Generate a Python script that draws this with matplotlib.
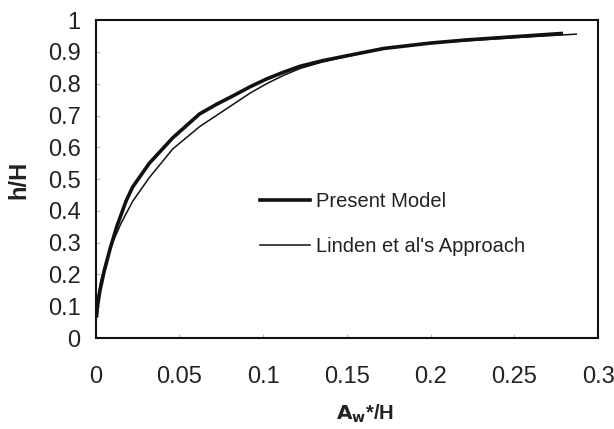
import matplotlib.pyplot as plt
import numpy as np

plt.rcParams['font.family'] = ['Liberation Sans', 'DejaVu Sans']

# Present Model (thick line)
present_x = [0.0005, 0.001, 0.0025, 0.005, 0.0085, 0.0125, 0.018, 0.022, 0.032,
             0.046, 0.062, 0.072, 0.082, 0.092, 0.102, 0.112, 0.122, 0.135,
             0.15, 0.172, 0.2, 0.222, 0.25, 0.278]
present_y = [0.07, 0.10, 0.15, 0.21, 0.28, 0.35, 0.43, 0.475, 0.55,
             0.63, 0.705, 0.735, 0.762, 0.79, 0.815, 0.836, 0.855, 0.872,
             0.888, 0.911, 0.928, 0.938, 0.948, 0.958]

# Linden et al's Approach (thin line)
linden_x = [0.001, 0.003, 0.006, 0.01, 0.015, 0.022, 0.032, 0.046, 0.062,
            0.072, 0.082, 0.092, 0.102, 0.112, 0.122, 0.135, 0.15, 0.172,
            0.2, 0.25, 0.287]
linden_y = [0.12, 0.18, 0.24, 0.30, 0.36, 0.43, 0.505, 0.595, 0.665,
            0.70, 0.735, 0.77, 0.80, 0.826, 0.848, 0.868, 0.886, 0.91,
            0.928, 0.945, 0.956]

xticks = [0, 0.05, 0.1, 0.15, 0.2, 0.25, 0.3]
xtick_labels = ['0', '0.05', '0.1', '0.15', '0.2', '0.25', '0.3']
yticks = [0, 0.1, 0.2, 0.3, 0.4, 0.5, 0.6, 0.7, 0.8, 0.9, 1]
ytick_labels = ['0', '0.1', '0.2', '0.3', '0.4', '0.5', '0.6', '0.7', '0.8', '0.9', '1']

fig = plt.figure(figsize=(6.14, 4.29), dpi=100)
ax = fig.add_axes([0.156, 0.212, 0.818, 0.741])

ax.plot(present_x, present_y, color='#111111', lw=2.6, label='Present Model')
ax.plot(linden_x, linden_y, color='#111111', lw=1.1, label="Linden et al's Approach")

ax.set_xlim(0, 0.3)
ax.set_ylim(0, 1)
ax.set_xticks(xticks)
ax.set_xticklabels(xtick_labels)
ax.set_yticks(yticks)
ax.set_yticklabels(ytick_labels)

for s in ax.spines.values():
    s.set_linewidth(1.5)
    s.set_color('#111111')

ax.tick_params(axis='x', direction='in', length=3, color='#bbbbbb',
               labelsize=17, pad=20, labelcolor='#222222')
ax.tick_params(axis='y', direction='in', length=3, color='#bbbbbb',
               labelsize=17, pad=11, labelcolor='#222222')

fig.text(365 / 614, 1 - 414 / 429, r'$\mathbf{A_w}$*/H', fontsize=14.5,
         fontweight='bold', color='#222222', ha='center', va='center')
fig.text(19 / 614, 1 - 180 / 429, 'h/H', fontsize=17, fontweight='bold',
         color='#222222', ha='center', va='center', rotation=90)

ax.legend(loc='upper left', bbox_to_anchor=(0.29, 0.515), frameon=False,
          fontsize=14.5, handlelength=2.5, handletextpad=0.3, labelspacing=1.25,
          labelcolor='#222222')

fig.savefig('out.png', dpi=100)
